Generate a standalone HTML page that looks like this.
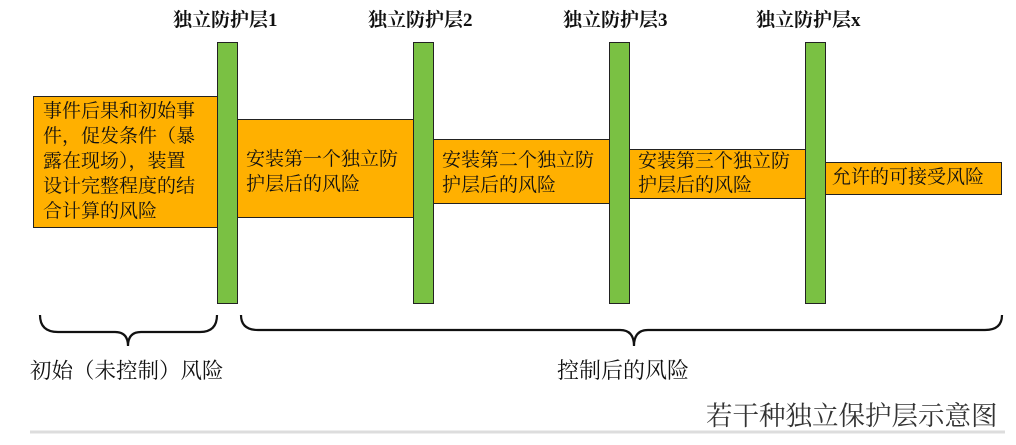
<!DOCTYPE html>
<html><head><meta charset="utf-8"><style>
body{margin:0;width:1016px;height:445px;background:#fff;position:relative;overflow:hidden;font-family:"Liberation Serif","Noto Serif CJK SC","Noto Sans CJK SC",serif;color:#111}
.g{position:absolute;top:42px;width:19px;height:260px;background:#7ac143;border:1px solid #222}
.o{position:absolute;background:#ffb000;border:1px solid #222;box-sizing:border-box;font-size:19px;line-height:25px;white-space:nowrap}
.l{position:absolute;top:5px;font-size:19px;font-weight:bold;white-space:nowrap}
.t{position:absolute;white-space:nowrap}
</style></head><body>
<div class="l" style="left:173px">独立防护层1</div>
<div class="l" style="left:368px">独立防护层2</div>
<div class="l" style="left:563px">独立防护层3</div>
<div class="l" style="left:756px">独立防护层x</div>

<div class="o" style="left:33px;top:96px;width:186px;height:132px;padding:2px 0 0 9px;">事件后果和初始事<br>件，促发条件（暴<br>露在现场），装置<br>设计完整程度的结<br>合计算的风险</div>
<div class="o" style="left:237px;top:119px;width:178px;height:99px;padding:27px 0 0 8px">安装第一个独立防<br>护层后的风险</div>
<div class="o" style="left:433px;top:139px;width:178px;height:65px;padding:8px 0 0 8px">安装第二个独立防<br>护层后的风险</div>
<div class="o" style="left:629px;top:149px;width:178px;height:50px;padding:0 0 0 8px;line-height:24px">安装第三个独立防<br>护层后的风险</div>
<div class="o" style="left:825px;top:162px;width:177px;height:33px;padding:2px 0 0 6px">允许的可接受风险</div>

<div class="g" style="left:217px"></div>
<div class="g" style="left:413px"></div>
<div class="g" style="left:609px"></div>
<div class="g" style="left:805px"></div>

<svg style="position:absolute;left:0;top:0" width="1016" height="445">
<path d="M40 315 Q40 332 58 332 L115 332 Q128 332 128 346 Q128 332 141 332 L200 332 Q217 332 217 315" fill="none" stroke="#111" stroke-width="2.2"/>
<path d="M241 315 Q241 330 258 330 L620 330 Q634 330 634 346 Q634 330 648 330 L985 330 Q1002 330 1002 315" fill="none" stroke="#111" stroke-width="2.2"/>
<line x1="30" y1="432" x2="1005" y2="432" stroke="#ddd" stroke-width="3"/>
</svg>

<div class="t" style="left:30px;top:354px;font-size:21.5px">初始（未控制）风险</div>
<div class="t" style="left:557px;top:354px;font-size:22px">控制后的风险</div>
<div class="t" style="left:706px;top:394px;font-size:26.5px;color:#333">若干种独立保护层示意图</div>
</body></html>
